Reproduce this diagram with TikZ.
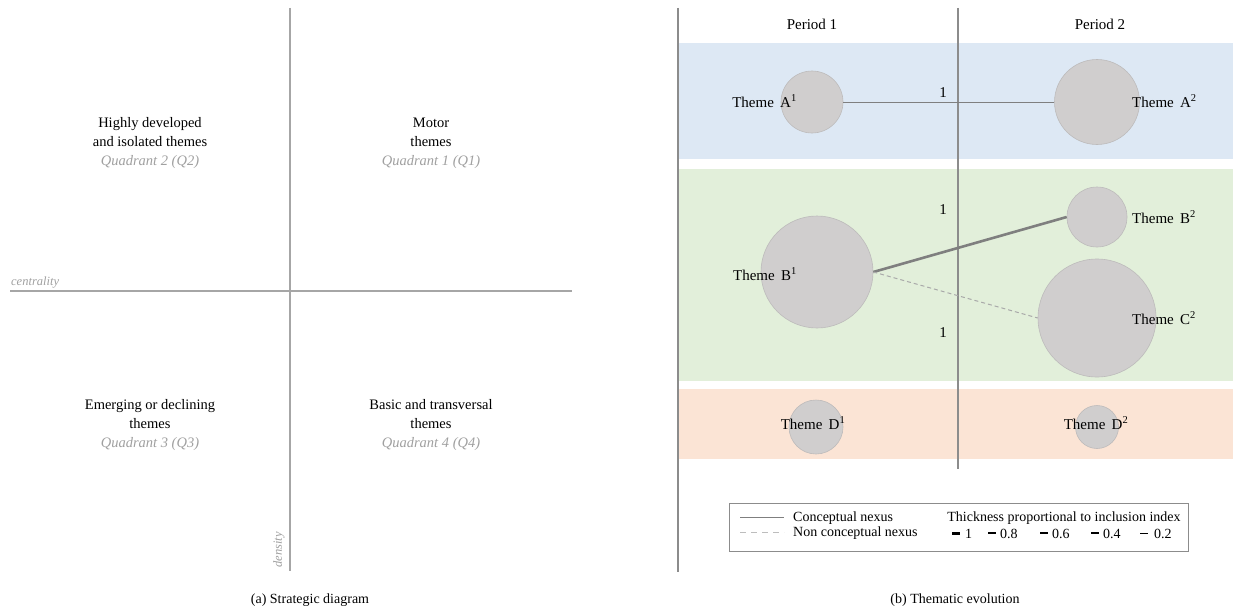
\documentclass[tikz,border=0pt]{standalone}
\usepackage{fontspec}
\setmainfont{Liberation Serif}
\definecolor{bandblue}{HTML}{DDE8F4}
\definecolor{bandgreen}{HTML}{E2EFDA}
\definecolor{bandorange}{HTML}{FBE4D5}
\definecolor{circfill}{HTML}{D0CECE}
\definecolor{circline}{HTML}{BDBBBB}
\definecolor{axisgray}{HTML}{A6A6A6}
\definecolor{midgray}{HTML}{8C8C8C}
\definecolor{linkgray}{HTML}{7F7F7F}
\definecolor{dashgray}{HTML}{A9A9A9}
\definecolor{qgray}{HTML}{A0A0A0}
\begin{document}
\begin{tikzpicture}[x=1pt,y=-1pt,
  quad/.style={align=center,inner sep=0pt,font=\fontsize{14.5}{19}\selectfont},
  axlab/.style={text=qgray,inner sep=0pt,font=\fontsize{12.5}{14}\selectfont\itshape},
  period/.style={inner sep=0pt,font=\fontsize{15}{18}\selectfont},
  theme/.style={inner sep=0pt,font=\fontsize{15}{18}\selectfont},
  num/.style={inner sep=0pt,font=\fontsize{15}{18}\selectfont},
  bubble/.style={circle,fill=circfill,draw=circline,line width=0.6pt,inner sep=0pt},
  leg/.style={inner sep=0pt,font=\fontsize{14}{15}\selectfont},
  captext/.style={inner sep=0pt,font=\fontsize{14}{17}\selectfont},
  axisline/.style={draw=axisgray,line width=1.5pt},
  panelline/.style={draw=midgray,line width=1.3pt},
  nexus/.style={draw=linkgray,line width=1pt},
  strongnexus/.style={draw=linkgray,line width=2.6pt},
  weaknexus/.style={draw=dashgray,line width=1pt,dash pattern=on 4pt off 3pt}
]
\useasboundingbox (0,0) rectangle (1233,610);
\fill[white] (0,0) rectangle (1233,610);

% ---------- (a) Strategic diagram ----------
\coordinate (vtop) at (290,8);
\coordinate (vbot) at (290,571);
\coordinate (hl) at (10,291);
\coordinate (hr) at (572,291);
\draw[axisline] (vtop) -- (vbot);
\draw[axisline] (hl) -- (hr);
\node[axlab,anchor=west] (centr) at (11,283) {centrality};
\node[axlab,rotate=90] (dens) at (279,550) {density};

\node[quad] (q2) at (150,143) {Highly developed\\and isolated themes\\{\color{qgray}\itshape Quadrant 2 (Q2)}};
\node[quad] (q1) at (431,143) {Motor\\themes\\{\color{qgray}\itshape Quadrant 1 (Q1)}};
\node[quad] (q3) at (150,425) {Emerging or declining\\themes\\{\color{qgray}\itshape Quadrant 3 (Q3)}};
\node[quad] (q4) at (431,425) {Basic and transversal\\themes\\{\color{qgray}\itshape Quadrant 4 (Q4)}};

\node[captext] (capa) at (310,600) {(a) Strategic diagram};

% ---------- (b) Thematic evolution ----------
\fill[bandblue] (679,43) rectangle (1233,159);
\fill[bandgreen] (679,169) rectangle (1233,381);
\fill[bandorange] (679,389) rectangle (1233,459);

\coordinate (ltop) at (678,8);
\coordinate (lbot) at (678,572);
\coordinate (mtop) at (958,8);
\coordinate (mbot) at (958,469);
\draw[panelline] (ltop) -- (lbot);
\draw[panelline] (mtop) -- (mbot);

\node[period] (p1) at (812,24) {Period 1};
\node[period] (p2) at (1100,24) {Period 2};

% bubbles
\node[bubble,minimum size=62pt] (A1) at (812,102) {};
\node[bubble,minimum size=85pt] (A2) at (1097,102) {};
\node[bubble,minimum size=112pt] (B1) at (817,272) {};
\node[bubble,minimum size=60pt] (B2) at (1097,217) {};
\node[bubble,minimum size=118pt] (C2) at (1097,318) {};
\node[bubble,minimum size=54pt] (D1) at (816,427) {};
\node[bubble,minimum size=43pt] (D2) at (1097,427) {};

% connectors
\draw[nexus] (A1.east) -- (A2.west);
\draw[strongnexus] (B1.east) -- (B2.west);
\draw[weaknexus] (B1.east) -- (C2.west);

% labels
\node[num] (nA) at (943,93) {1};
\node[num] (nB) at (943,210) {1};
\node[num] (nC) at (943,333) {1};

\node[theme,anchor=east] (tA1) at (797,101) {Theme\ \,A\textsuperscript{1}};
\node[theme,anchor=west] (tA2) at (1132,101) {Theme\ \,A\textsuperscript{2}};
\node[theme,anchor=east] (tB1) at (797,274) {Theme\ \,B\textsuperscript{1}};
\node[theme,anchor=west] (tB2) at (1132,217) {Theme\ \,B\textsuperscript{2}};
\node[theme,anchor=west] (tC2) at (1132,318) {Theme\ \,C\textsuperscript{2}};
\node[theme] (tD1) at (813,423) {Theme\ \,D\textsuperscript{1}};
\node[theme] (tD2) at (1096,423) {Theme\ \,D\textsuperscript{2}};

% legend
\node[draw=midgray,line width=1pt,minimum width=459pt,minimum height=48pt,inner sep=0pt] (legend) at (959,527) {};
\coordinate (s1) at (740,517);
\coordinate (s2) at (784,517);
\coordinate (d1) at (740,532);
\coordinate (d2) at (784,532);
\draw[nexus] (s1) -- (s2);
\draw[draw=qgray!70,line width=1pt,dash pattern=on 6pt off 5pt] (d1) -- (d2);
\node[leg,anchor=west] (lc) at (793,518) {Conceptual nexus};
\node[leg,anchor=west] (ln) at (793,533) {Non conceptual nexus};
\node[leg] (lt) at (1064,518) {Thickness proportional to inclusion index};

\coordinate (k1a) at (952,533); \coordinate (k1b) at (960,533);
\coordinate (k2a) at (988,533); \coordinate (k2b) at (996,533);
\coordinate (k3a) at (1040,533); \coordinate (k3b) at (1048,533);
\coordinate (k4a) at (1091,533); \coordinate (k4b) at (1099,533);
\coordinate (k5a) at (1140,533); \coordinate (k5b) at (1148,533);
\draw[black,line width=3pt] (k1a) -- (k1b);
\draw[black,line width=2pt] (k2a) -- (k2b);
\draw[black,line width=1.6pt] (k3a) -- (k3b);
\draw[black,line width=1.3pt] (k4a) -- (k4b);
\draw[black,line width=1pt] (k5a) -- (k5b);
\node[leg,anchor=west] (v1) at (965,534) {1};
\node[leg,anchor=west] (v2) at (1000,534) {0.8};
\node[leg,anchor=west] (v3) at (1052,534) {0.6};
\node[leg,anchor=west] (v4) at (1103,534) {0.4};
\node[leg,anchor=west] (v5) at (1154,534) {0.2};

\node[captext] (capb) at (955,600) {(b) Thematic evolution};
\end{tikzpicture}
\end{document}
